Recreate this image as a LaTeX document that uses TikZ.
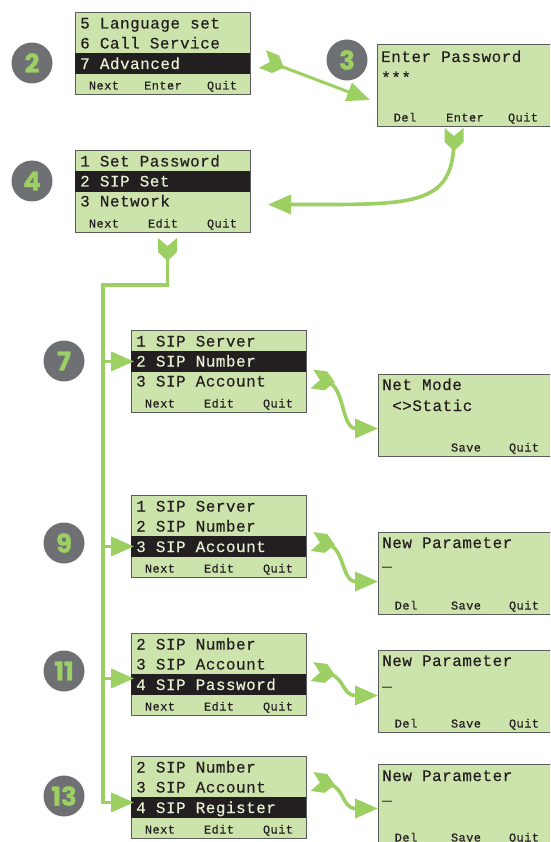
\documentclass[tikz,border=0pt]{standalone}
\usepackage{fontspec}
\usetikzlibrary{arrows.meta,calc}
\newfontfamily\lcdfont[LetterSpace=3,FakeBold=0.25]{Liberation Mono}
\newfontfamily\lcdkeyfont[LetterSpace=3.5,FakeBold=0.25]{Liberation Mono}
\newfontfamily\badgefont[FakeBold=1]{Poppins}
\definecolor{lcdgreen}{HTML}{CDE3AC}
\definecolor{lcdedge}{HTML}{5A5C5C}
\definecolor{lcdink}{HTML}{231F20}
\definecolor{lcdlight}{HTML}{E6F0D2}
\definecolor{flowgreen}{HTML}{9DD063}
\definecolor{badgegray}{HTML}{6F7074}
\tikzset{
  panelbox/.style={draw=lcdedge,line width=1pt,fill=lcdgreen,anchor=north west,inner sep=0,minimum width=175pt,minimum height=82pt},
  widebox/.style={panelbox,minimum width=174pt},
  hirow/.style={fill=lcdink,anchor=north west,inner sep=0,minimum width=175pt,minimum height=20.5pt},
  rowtext/.style={anchor=base west,inner sep=0,text=lcdink,font=\lcdfont\fontsize{16}{17}\selectfont},
  hitext/.style={rowtext,text=lcdlight},
  keytext/.style={anchor=base,inner sep=0,text=lcdink,font=\lcdkeyfont\fontsize{12}{13}\selectfont},
  badge/.style={circle,fill=badgegray,inner sep=0,minimum size=41pt,text=flowgreen,font=\badgefont\bfseries\fontsize{26}{26}\selectfont},
  flow/.style={draw=flowgreen,line width=3.6pt},
  flowtip/.style={-{Triangle[length=23pt,width=19pt,fill=flowgreen,color=flowgreen]}},
}
\newcommand{\chevron}[2]{\fill[flowgreen,shift={(#1)},rotate=#2] (0,-9.5) -- (8,0) -- (0,9.5) -- (14,9.5) -- (23,0) -- (14,-9.5) -- cycle;}
\newcommand{\lcdmenu}[8]{%
  \node[panelbox] (#1) at (#2,#3) {};
  \ifnum#4=2
    \node[hirow] (#1-hi) at (#2,#3+21) {};
    \node[rowtext] (#1-a) at (#2+5,#3+16.5) {#5};
    \node[hitext] (#1-b) at (#2+5,#3+36.5) {#6};
    \node[rowtext] (#1-c) at (#2+5,#3+56.5) {#7};
  \else
    \node[hirow] (#1-hi) at (#2,#3+41) {};
    \node[rowtext] (#1-a) at (#2+5,#3+16.5) {#5};
    \node[rowtext] (#1-b) at (#2+5,#3+36.5) {#6};
    \node[hitext] (#1-c) at (#2+5,#3+57) {#7};
  \fi
  \node[keytext] (#1-k1) at (#2+29,#3+77.5) {Next};
  \node[keytext] (#1-k2) at (#2+88,#3+77.5) {#8};
  \node[keytext] (#1-k3) at (#2+147,#3+77.5) {Quit};
}
\newcommand{\lcdentry}[9]{%
  \node[widebox] (#1) at (#2,#3) {};
  \node[rowtext] (#1-a) at (#2+4,#3+#4) {#5};
  \node[rowtext] (#1-b) at (#2+4,#3+#6) {#7};
  \node[keytext] (#1-k1) at (#2+28,#3+77.5) {#8};
  \node[keytext] (#1-k2) at (#2+88,#3+77.5) {#9};
  \node[keytext] (#1-k3) at (#2+146,#3+77.5) {Quit};
}
\begin{document}
\begin{tikzpicture}[x=1pt,y=-1pt]
\useasboundingbox (0,0) rectangle (550,842);
\clip (0,0) rectangle (550,842);
\fill[white] (0,0) rectangle (550,842);

\node[badge] (b2) at (32,63) {2};
\node[badge] (b3) at (347,60) {3};
\node[badge] (b4) at (32,181) {4};
\node[badge] (b7) at (64,361) {7};
\node[badge] (b9) at (64,543) {9};
\node[badge] (b11) at (64,671) {11};
\node[badge] (b13) at (64,796) {13};

\lcdmenu{p2}{75}{12}{3}{5 Language set}{6 Call Service}{7 Advanced}{Enter}
\lcdmenu{p4}{75}{150}{2}{1 Set Password}{2 SIP Set}{3 Network}{Edit}
\lcdmenu{p7}{131}{330}{2}{1 SIP Server}{2 SIP Number}{3 SIP Account}{Edit}
\lcdmenu{p9}{131}{495}{3}{1 SIP Server}{2 SIP Number}{3 SIP Account}{Edit}
\lcdmenu{p11}{131}{633}{3}{2 SIP Number}{3 SIP Account}{4 SIP Password}{Edit}
\lcdmenu{p13}{131}{756}{3}{2 SIP Number}{3 SIP Account}{4 SIP Register}{Edit}

\lcdentry{r3}{377}{44}{18}{Enter Password}{39}{***}{Del}{Enter}
\lcdentry{r7}{378}{374}{16}{Net Mode}{37}{\hspace*{10pt}<>Static}{}{Save}
\lcdentry{r9}{378}{532}{16}{New Parameter}{34}{\_}{Del}{Save}
\lcdentry{r11}{378}{650}{16}{New Parameter}{36}{\_}{Del}{Save}
\lcdentry{r13}{378}{764}{17}{New Parameter}{36}{\_}{Del}{Save}

% step 2 to step 3
\coordinate (c23) at ([shift={(11.5,5.5)}]p2.east);
\chevron{c23}{-22}
\draw[flow,line width=3pt,flowtip] ($(c23)+(9,3.7)$) -- ([shift={(-7,14.5)}]r3.west);
% step 3 to step 4
\coordinate (c34) at ([shift={(-10.5,1)}]r3.south);
\chevron{c34}{-90}
\draw[flow,flowtip] ($(c34)+(0,10)$) .. controls +(0,70) and +(145,0) .. ([shift={(17,13)}]p4.east);
% trunk out of step 4
\coordinate (c4) at ([shift={(4.5,5)}]p4.south);
\chevron{c4}{-90}
\coordinate (spine) at (103,285);
\coordinate (t7) at ([xshift=3pt]p7-hi.west);
\coordinate (t9) at ([xshift=3pt]p9-hi.west);
\coordinate (t11) at ([shift={(3,-6)}]p11-hi.west);
\coordinate (t13) at ([shift={(3,-5)}]p13-hi.west);
\draw[flow,flowtip] ($(c4)+(0,10)$) |- (spine) |- (t13);
\draw[flow,flowtip] (spine |- t7) -- (t7);
\draw[flow,flowtip] (spine |- t9) -- (t9);
\draw[flow,flowtip] (spine |- t11) -- (t11);

% menu to parameter screens
\coordinate (c7) at ([shift={(5,7.5)}]p7.east);
\coordinate (c9) at ([shift={(5,5)}]p9.east);
\coordinate (c11) at ([shift={(5,-3)}]p11.east);
\coordinate (c13) at ([shift={(5,-16)}]p13.east);
\foreach \cc in {c7,c9,c11,c13}{\chevron{\cc}{-8}}
\draw[flow,flowtip] ($(c7)+(10,1.4)$) .. controls +(24,0) and +(-38,0) .. ([yshift=-13pt]r7.west);
\draw[flow,flowtip] ($(c9)+(10,1.4)$) .. controls +(24,0) and +(-38,0) .. ([yshift=-8pt]r9.west);
\draw[flow,flowtip] ($(c11)+(10,1.4)$) .. controls +(24,0) and +(-38,0) .. ([yshift=-4pt]r11.west);
\draw[flow,flowtip] ($(c13)+(10,1.4)$) .. controls +(24,0) and +(-38,0) .. ([yshift=-3pt]r13.west);
\end{tikzpicture}
\end{document}
